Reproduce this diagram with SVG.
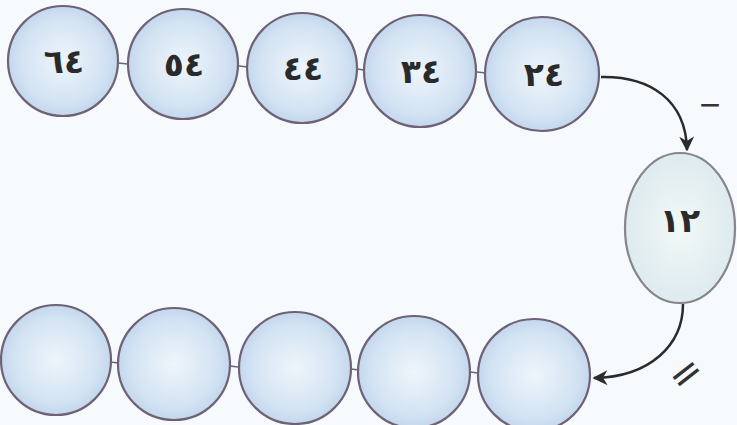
<svg xmlns="http://www.w3.org/2000/svg" width="737" height="425" viewBox="0 0 737 425">
<defs>
<radialGradient id="g" cx="0.5" cy="0.5" r="0.55">
<stop offset="0" stop-color="#eef5fb"/>
<stop offset="0.7" stop-color="#d3e3f3"/>
<stop offset="1" stop-color="#bcd2ea"/>
</radialGradient>
<radialGradient id="go" cx="0.5" cy="0.5" r="0.55">
<stop offset="0" stop-color="#f2f8f7"/>
<stop offset="1" stop-color="#dbe9ee"/>
</radialGradient>
<marker id="ah" viewBox="0 0 10 10" refX="9" refY="5" markerWidth="6" markerHeight="6" orient="auto" markerUnits="strokeWidth">
<path d="M0,0 L10,5 L0,10 L3,5 Z" fill="#2b2b2b"/>
</marker>
</defs>
<style>
.c{fill:url(#g);stroke:#6f6277;stroke-width:2.2}
.o{fill:url(#go);stroke:#85858c;stroke-width:2.2}
.t{font-family:"DejaVu Sans",sans-serif;font-weight:bold;font-size:33px;fill:#2a2a2a;text-anchor:middle;dominant-baseline:central}
.l{stroke:#6f6277;stroke-width:1.5}
.a{fill:none;stroke:#2b2b2b;stroke-width:2.5}
.s{font-family:"DejaVu Sans",sans-serif;fill:#333;text-anchor:middle;dominant-baseline:central}
</style>
<rect width="737" height="425" fill="#f7fafd"/>
<g id="links">
<line class="l" x1="118" y1="63" x2="128" y2="64"/>
<line class="l" x1="239" y1="66" x2="248" y2="67"/>
<line class="l" x1="357" y1="69" x2="364" y2="70"/>
<line class="l" x1="477" y1="72" x2="486" y2="73"/>
<line class="l" x1="110" y1="362" x2="119" y2="363"/>
<line class="l" x1="230" y1="366" x2="238" y2="367"/>
<line class="l" x1="351" y1="369" x2="359" y2="370"/>
<line class="l" x1="470" y1="372" x2="478" y2="373"/>
</g>
<g id="top1"><circle class="c" cx="63" cy="61" r="55"/><text class="t" x="64" y="61">٦٤</text></g>
<g id="top2"><circle class="c" cx="183" cy="64" r="55"/><text class="t" x="184" y="64">٥٤</text></g>
<g id="top3"><circle class="c" cx="302" cy="68" r="55"/><text class="t" x="303" y="68">٤٤</text></g>
<g id="top4"><circle class="c" cx="420" cy="71" r="56"/><text class="t" x="421" y="71">٣٤</text></g>
<g id="top5"><circle class="c" cx="542" cy="74" r="57"/><text class="t" x="544" y="74">٢٤</text></g>
<g id="mid"><ellipse class="o" cx="680" cy="228" rx="55" ry="75"/><text class="t" x="680" y="220">١٢</text></g>
<g id="bot1"><circle class="c" cx="56" cy="360" r="55"/></g>
<g id="bot2"><circle class="c" cx="174" cy="364" r="56"/></g>
<g id="bot3"><circle class="c" cx="295" cy="368" r="56"/></g>
<g id="bot4"><circle class="c" cx="414" cy="372" r="56"/></g>
<g id="bot5"><circle class="c" cx="534" cy="375" r="56"/></g>
<g id="connectors">
<path class="a" d="M601,77 C650,76 686,100 687,150" marker-end="url(#ah)"/>
<path class="a" d="M683,304 C683,345 650,377 594,378" marker-end="url(#ah)"/>
<text class="s" x="710" y="104" font-size="28">−</text>
<text class="s" x="685" y="373" font-size="40" transform="rotate(-38 685 373)">=</text>
</g>
</svg>
